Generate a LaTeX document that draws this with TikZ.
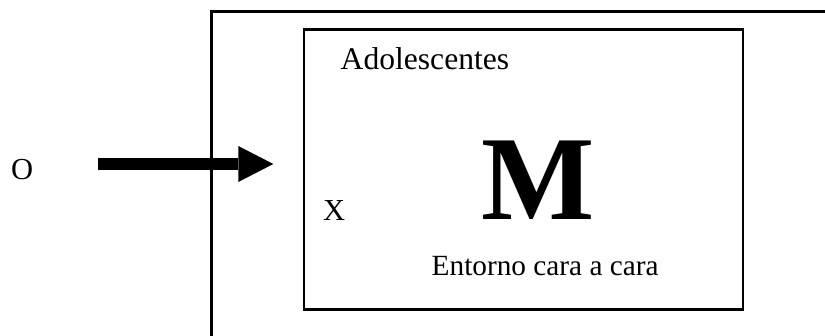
\documentclass[tikz,border=0pt]{standalone}
\usepackage{fontspec}
\setmainfont{Liberation Serif}
\usetikzlibrary{arrows.meta}
\tikzset{
  label text/.style={anchor=base west, inner sep=0pt, font=\fontsize{30.5}{36}\selectfont},
  big letter/.style={anchor=base west, inner sep=0pt, font=\fontsize{120}{120}\selectfont\bfseries},
}
\begin{document}
\begin{tikzpicture}[x=1pt,y=-1pt]
  \useasboundingbox (0,0) rectangle (825,335);
  \draw [line width=3.2pt] (211.5,340) -- (211.5,11.2) -- (830,11.2); %外側の枠
  \draw [line width=2.5pt] (304,29.3) rectangle (742.8,309.7);      %内側の枠

  \node [label text] (obs)   at (11,179)  {O};
  \node [label text, font=\fontsize{31.6}{36}\selectfont] (adol) at (340.5,69) {Adolescentes};
  \node [label text] (var)   at (323,220) {X};
  \node [big letter] (mues)  at (481,219) {M};
  \node [label text, font=\fontsize{29.3}{36}\selectfont] (ent) at (431.5,275) {Entorno cara a cara};

  \coordinate (arrowstart) at (98,164);
  \coordinate (arrowend) at (273.3,164);
  \draw [line width=11.7pt, -{Triangle[length=35pt,width=36pt,line width=0pt]}] (arrowstart) -- (arrowend);
\end{tikzpicture}
\end{document}
